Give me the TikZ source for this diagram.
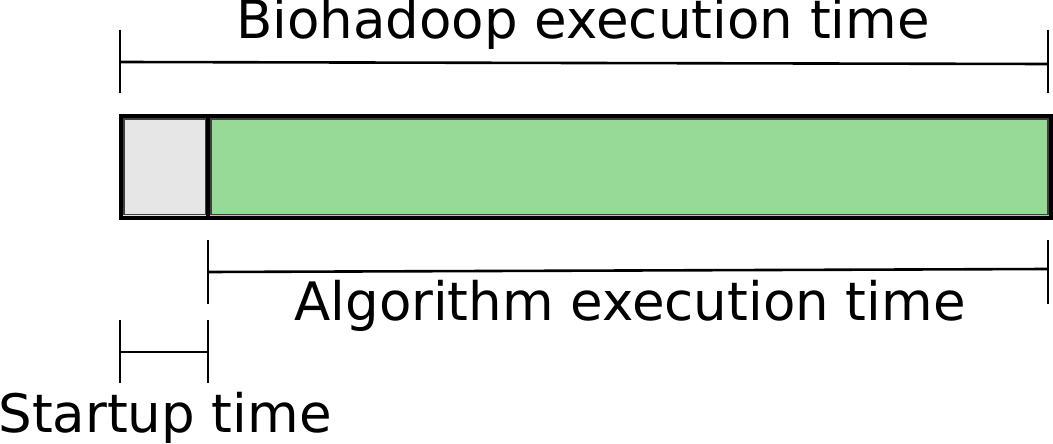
\documentclass[tikz,border=0pt]{standalone}
\usepackage{fontspec}
\setmainfont{DejaVu Sans}
\begin{document}
\begin{tikzpicture}[x=1pt,y=-1pt,
  dim/.style={line width=2.6pt, black},
  lbl/.style={anchor=base, inner sep=0pt, font=\fontsize{53}{60}\selectfont},
  seg/.style={draw=black, line width=3.5pt},
  inner/.style={draw=black!75, line width=1.2pt}]
\useasboundingbox (0,0) rectangle (1053,444);
% boxes
\fill[fill={rgb,255:red,230;green,230;blue,230}] (121,116) rectangle (208,218);
\fill[fill={rgb,255:red,151;green,218;blue,151}] (208,116) rectangle (1051,218);
\draw[seg] (121,116) rectangle (208,218);
\draw[seg] (208,116) rectangle (1051,218);
\draw[inner] (124,119) rectangle (205.5,214.5);
\draw[inner] (211,119) rectangle (1048,214.5);
% coordinates
\coordinate (t1a) at (120,30); \coordinate (t1b) at (120,93);
\coordinate (t2a) at (1048,30); \coordinate (t2b) at (1048,93);
\coordinate (h1a) at (120,62); \coordinate (h1b) at (1048,64);
\coordinate (a1a) at (208,240); \coordinate (a1b) at (208,304);
\coordinate (a2a) at (1048,240); \coordinate (a2b) at (1048,304);
\coordinate (h2a) at (208,272); \coordinate (h2b) at (1048,269);
\coordinate (s1a) at (120,320); \coordinate (s1b) at (120,383);
\coordinate (s2a) at (208,320); \coordinate (s2b) at (208,383);
\coordinate (h3a) at (120,352); \coordinate (h3b) at (208,352);
\draw[dim] (t1a) -- (t1b); \draw[dim] (t2a) -- (t2b); \draw[dim] (h1a) -- (h1b);
\draw[dim] (a1a) -- (a1b); \draw[dim] (a2a) -- (a2b); \draw[dim] (h2a) -- (h2b);
\draw[dim] (s1a) -- (s1b); \draw[dim] (s2a) -- (s2b); \draw[dim] (h3a) -- (h3b);
% labels
\node[lbl] (bio) at (583,39) {Biohadoop execution time};
\node[lbl] (alg) at (630,320) {Algorithm execution time};
\node[lbl] (st) at (165,432) {Startup time};
\end{tikzpicture}
\end{document}
